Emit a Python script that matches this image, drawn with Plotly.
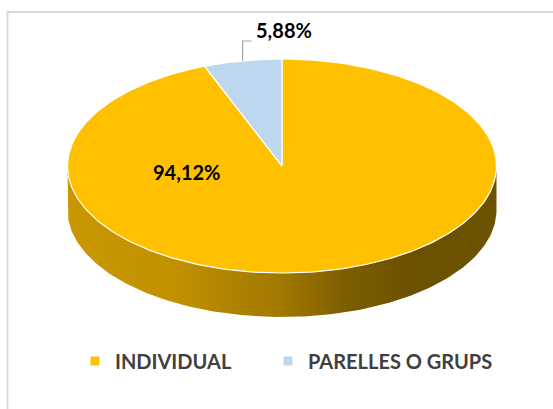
import math
import plotly.graph_objects as go

# ---- data -------------------------------------------------------------
categories = ["INDIVIDUAL", "PARELLES O GRUPS"]
values = [94.12, 5.88]
slice_colors = ["#FFC000", "#BDD7EE"]

# ---- geometry of the tilted pie (pixel units of the page) --------------
W, H = 553, 409
CX, CY = 282.0, 166.0      # centre of the top face
RX, RY = 214.5, 107.0      # radii of the elliptical top face
DEPTH = 44.0               # thickness of the disc


def top_pt(theta_deg, dy=0.0):
    """Point on the rim; theta measured clockwise from 12 o'clock."""
    t = math.radians(theta_deg)
    return CX + RX * math.sin(t), CY - RY * math.cos(t) + dy


# angular extents of each slice, clockwise from the top
total = sum(values)
spans = []
start = 0.0
for v in values:
    sweep = 360.0 * v / total
    spans.append((start, start + sweep))
    start += sweep

# lighting across the side wall: lighter on the left, darkest right of centre
shade_stops = [(0.0, 0.79), (0.25, 0.76), (0.5, 0.63), (0.65, 0.49),
               (0.8, 0.42), (1.0, 0.43)]


def hex_rgb(h):
    h = h.lstrip("#")
    return tuple(int(h[i:i + 2], 16) for i in (0, 2, 4))


def shaded(col, f):
    r, g, b = hex_rgb(col)
    return f"rgb({int(r * f)},{int(g * f)},{int(b * f)})"


fig = go.Figure()

# ---- side wall (only the front half of the disc is visible) ------------
for (s, e), col in zip(spans, slice_colors):
    a0, a1 = max(s, 90.0), min(e, 270.0)
    if a1 <= a0:
        continue
    n = max(4, int(a1 - a0))
    rim = [top_pt(a0 + (a1 - a0) * k / n) for k in range(n + 1)]
    xs = [p[0] for p in rim] + [p[0] for p in reversed(rim)] + [rim[0][0]]
    ys = ([p[1] for p in rim] + [p[1] + DEPTH for p in reversed(rim)]
          + [rim[0][1]])
    fig.add_trace(go.Scatter(
        x=xs, y=ys, mode="lines", fill="toself",
        fillgradient=dict(
            type="horizontal", start=CX - RX, stop=CX + RX,
            colorscale=[[u, shaded(col, f)] for u, f in shade_stops]),
        line=dict(width=0), hoverinfo="skip", showlegend=False))

# ---- top face slices ---------------------------------------------------
for (s, e), col in zip(spans, slice_colors):
    n = max(4, int(e - s))
    xs, ys = [CX], [CY]
    for k in range(n + 1):
        px, py = top_pt(s + (e - s) * k / n)
        xs.append(px)
        ys.append(py)
    xs.append(CX)
    ys.append(CY)
    fig.add_trace(go.Scatter(
        x=xs, y=ys, mode="lines", fill="toself", fillcolor=col,
        line=dict(color="white", width=1.2),
        hoverinfo="skip", showlegend=False))

# ---- legend entries (one legend box per category) ----------------------
legend_ids = ["legend", "legend2"]
legend_x = [75, 268]          # left edge of each legend box, px
for name, col, lid in zip(categories, slice_colors, legend_ids):
    fig.add_trace(go.Scatter(
        x=[None], y=[None], mode="markers", name=name, legend=lid,
        marker=dict(symbol="square", size=9, color=col)))


def pct_text(v):
    return f"{v:.2f}".replace(".", ",") + "%"


# ---- data labels -------------------------------------------------------
label_font = dict(family="Lato", size=20, color="#000000", weight="bold")
fig.add_annotation(x=186, y=172, text=pct_text(values[0]), showarrow=False,
                   font=label_font, xref="x", yref="y")

# small slice: label above, with an elbow leader from the rim midpoint
s, e = spans[1]
lx, ly = top_pt(0.5 * (s + e))
fig.add_trace(go.Scatter(
    x=[lx, lx, lx + 9], y=[ly, 41, 41], mode="lines",
    line=dict(color="#A6A6A6", width=1.2),
    hoverinfo="skip", showlegend=False))
fig.add_annotation(x=284, y=30, text=pct_text(values[1]), showarrow=False,
                   font=label_font, xref="x", yref="y")

# ---- chart frame -------------------------------------------------------
fig.add_shape(type="rect", xref="x", yref="y", x0=7.5, y0=12, x1=W + 10,
              y1=H + 10, line=dict(color="#D9D9D9", width=2),
              fillcolor="rgba(0,0,0,0)", layer="below")

legend_style = dict(orientation="h", yanchor="middle", xanchor="left",
                    y=1 - 361 / H,
                    font=dict(family="Lato", size=20, color="#404040",
                              weight="bold"),
                    bgcolor="rgba(0,0,0,0)")

fig.update_layout(
    width=W, height=H, autosize=False,
    margin=dict(l=0, r=0, t=0, b=0),
    paper_bgcolor="white", plot_bgcolor="white",
    xaxis=dict(range=[0, W], visible=False, fixedrange=True),
    yaxis=dict(range=[H, 0], visible=False, fixedrange=True),
    showlegend=True,
    legend=dict(x=legend_x[0] / W, **legend_style),
    legend2=dict(x=legend_x[1] / W, **legend_style),
    hovermode=False,
)

fig.write_html("out.html")
